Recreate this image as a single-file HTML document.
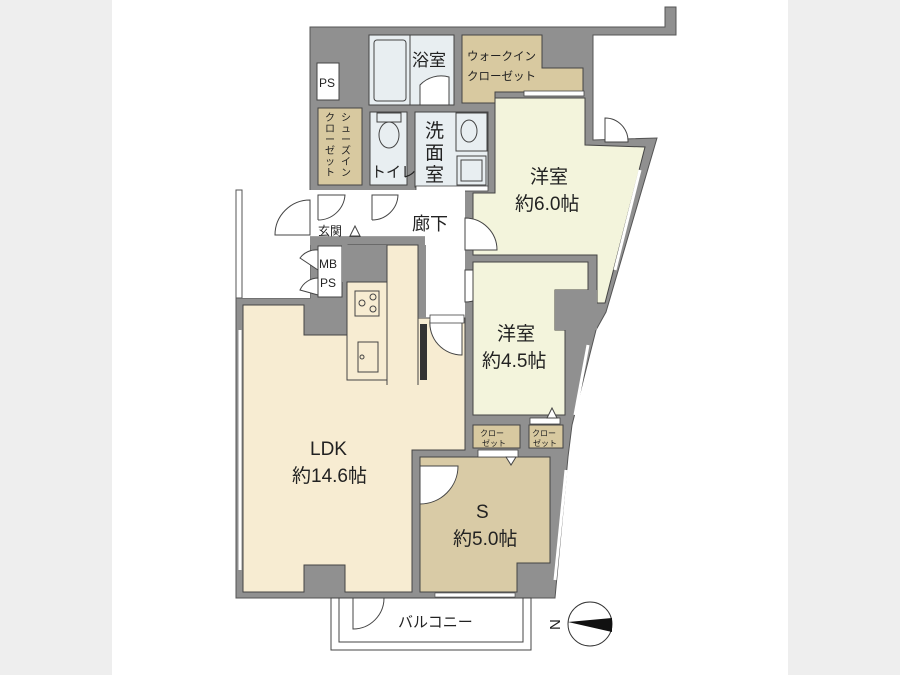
<!DOCTYPE html>
<html><head><meta charset="utf-8"><style>
html,body{margin:0;padding:0;background:#eeeeee;}
svg{display:block;}
text{font-family:"Liberation Sans","Noto Sans CJK JP",sans-serif;fill:#222;}
</style></head><body>
<svg width="900" height="675" viewBox="0 0 900 675" xmlns="http://www.w3.org/2000/svg">
<rect x="0" y="0" width="900" height="675" fill="#eeeeee"/>
<rect x="112" y="0" width="676" height="675" fill="#ffffff"/>

<polygon fill="#909090" stroke="#555" stroke-width="1" points="310,27 665,27 665,7 676,7 676,35 593,35 593,140 657,138 606,312 596,330 572,425 568,457 555,598 236,598 236,298 310,298"/>
<rect x="242" y="190" width="68" height="108" fill="#fff"/>
<rect x="236" y="190" width="6" height="108" fill="#fff" stroke="#555" stroke-width="1"/>

<rect x="369" y="35" width="85" height="70" fill="#e8eef1" stroke="#444" stroke-width="1"/>
<rect x="374" y="40" width="32" height="61" rx="3" fill="#e8eef1" stroke="#444" stroke-width="1"/>
<line x1="410" y1="35" x2="410" y2="105" stroke="#444"/>
<path d="M420,105 L420,85 A29,29 0 0 1 449,77 L449,105 Z" fill="#fff" stroke="#444"/>
<text x="412" y="66" font-size="17">浴室</text>

<polygon points="462,35 542,35 542,68 583,68 583,92 495,92 495,103 462,103" fill="#d8c9a0" stroke="#444"/>
<text x="467" y="60" font-size="11.5">ウォークイン</text>
<text x="467" y="80" font-size="11.5">クローゼット</text>
<rect x="524" y="91" width="60" height="5" fill="#fff" stroke="#444" stroke-width="0.8"/>

<rect x="317" y="63" width="22" height="37" fill="#fff" stroke="#444"/>
<text x="319" y="87" font-size="12">PS</text>

<rect x="318" y="108" width="44" height="77" fill="#d8c9a0" stroke="#444"/>
<text font-size="10"><tspan x="341" y="121">シ</tspan><tspan x="341" y="132">ュ</tspan><tspan x="341" y="143">ー</tspan><tspan x="341" y="154">ズ</tspan><tspan x="341" y="165">イ</tspan><tspan x="341" y="176">ン</tspan></text>
<text font-size="10"><tspan x="325" y="121">ク</tspan><tspan x="325" y="132">ロ</tspan><tspan x="325" y="143">ー</tspan><tspan x="325" y="154">ゼ</tspan><tspan x="325" y="165">ッ</tspan><tspan x="325" y="176">ト</tspan></text>

<rect x="370" y="112" width="37" height="73" fill="#e8eef1" stroke="#444"/>
<rect x="377" y="113" width="24" height="9" fill="#e8eef1" stroke="#444"/>
<ellipse cx="389" cy="135" rx="10" ry="13" fill="#e8eef1" stroke="#444"/>
<text x="371" y="177" font-size="15">トイレ</text>

<rect x="415" y="112" width="73" height="75" fill="#e8eef1" stroke="#444"/>
<rect x="456" y="113" width="31" height="38" fill="#e8eef1" stroke="#444"/>
<ellipse cx="469" cy="131" rx="8" ry="11" fill="#e8eef1" stroke="#444"/>
<rect x="457" y="156" width="29" height="29" fill="#e8eef1" stroke="#444"/>
<rect x="461" y="160" width="21" height="21" fill="#e8eef1" stroke="#444"/>
<text font-size="19"><tspan x="425" y="137">洗</tspan><tspan x="425" y="159">面</tspan><tspan x="425" y="181">室</tspan></text>
<rect x="416" y="186" width="72" height="5" fill="#fff" stroke="#444" stroke-width="0.8"/>

<polygon points="495,98 585,98 585,145 645,147 605,303 597,303 597,255 473,255 473,193 495,193" fill="#f3f4dc" stroke="#444"/>
<path d="M605,142 L605,118 A23,23 0 0 1 628,142 Z" fill="#fff" stroke="#444"/>
<text x="530" y="183" font-size="19">洋室</text>
<text x="515" y="210" font-size="19">約6.0帖</text>
<line x1="640" y1="170" x2="615" y2="270" stroke="#fff" stroke-width="3"/>

<rect x="362" y="190" width="103" height="55" fill="#fff"/>
<rect x="406" y="190" width="59" height="130" fill="#fff"/>
<rect x="310" y="190" width="52" height="48" fill="#fff"/>
<line x1="310" y1="237" x2="425" y2="237" stroke="#444"/>
<rect x="310" y="237" width="115" height="8" fill="#909090"/>
<text x="412" y="230" font-size="18">廊下</text>
<text x="318" y="235" font-size="12">玄関</text>
<polygon points="350,236 355,226 360,236" fill="#fff" stroke="#444"/>
<path d="M318,220 L318,195 L345,195 A27,27 0 0 1 318,220" fill="#fff" stroke="#444"/>
<path d="M372,220 L372,195 L398,195 A26,26 0 0 1 372,220" fill="#fff" stroke="#444"/>
<path d="M310,235 L310,200 A35,35 0 0 0 275,235 Z" fill="#fff" stroke="#444"/>
<path d="M465,218 A32,32 0 0 1 497,250 L465,250 Z" fill="#fff" stroke="#444"/>
<path d="M465,270 L497,270 A32,32 0 0 1 465,302 Z" fill="#fff" stroke="#444"/>
<path d="M300,258 A20,20 0 0 1 318,250 L318,270 Z" fill="#fff" stroke="#444"/>
<path d="M300,290 A20,20 0 0 1 318,278 L318,295 Z" fill="#fff" stroke="#444"/>

<rect x="318" y="246" width="24" height="51" fill="#fff" stroke="#444"/>
<text x="319" y="268" font-size="12">MB</text>
<text x="320" y="287" font-size="12">PS</text>
<rect x="350" y="247" width="28" height="26" fill="#d8c9a0" stroke="#444"/>
<text x="351" y="265" font-size="11">収納</text>

<polygon points="473,262 588,262 588,290 555,290 555,330 565,330 565,415 473,415" fill="#f3f4dc" stroke="#444"/>
<rect x="555" y="290" width="42" height="40" fill="#909090"/>
<text x="497" y="340" font-size="19">洋室</text>
<text x="482" y="367" font-size="19">約4.5帖</text>
<line x1="588" y1="345" x2="575" y2="415" stroke="#fff" stroke-width="3"/>

<rect x="473" y="425" width="47" height="23" fill="#d8c9a0" stroke="#444"/>
<text x="480" y="436" font-size="8">クロー</text><text x="482" y="446" font-size="8">ゼット</text>
<rect x="529" y="425" width="34" height="23" fill="#d8c9a0" stroke="#444"/>
<text x="532" y="436" font-size="8">クロー</text><text x="533" y="446" font-size="8">ゼット</text>
<rect x="530" y="418" width="30" height="6" fill="#fff" stroke="#444" stroke-width="0.8"/>
<polygon points="547,418 552,408 557,418" fill="#fff" stroke="#444"/>

<polygon points="243,305 304,305 304,335 348,335 348,245 418,245 418,318 465,318 465,450 412,450 412,592 345,592 345,565 304,565 304,592 243,592" fill="#f7ecd2" stroke="#444"/>
<rect x="418" y="245" width="8" height="73" fill="#909090"/>
<rect x="342" y="245" width="46" height="37" fill="#909090"/>
<path d="M387,385 L387,245 L418,245 L418,385" fill="#f7ecd2" stroke="#444"/>
<rect x="347" y="282" width="40" height="98" fill="#f7ecd2" stroke="#444"/>
<rect x="355" y="291" width="24" height="25" fill="#f7ecd2" stroke="#444"/>
<circle cx="362" cy="303" r="3" fill="none" stroke="#444"/><circle cx="373" cy="297" r="3" fill="none" stroke="#444"/><circle cx="373" cy="309" r="3" fill="none" stroke="#444"/>
<rect x="358" y="342" width="20" height="30" fill="#f7ecd2" stroke="#444"/>
<circle cx="362" cy="357" r="2" fill="none" stroke="#444"/>
<rect x="420" y="324" width="7" height="56" fill="#333"/>
<path d="M430,320 L462,320 L462,355 A32,32 0 0 1 430,320" fill="#fff" stroke="#444"/>
<rect x="430" y="315" width="34" height="8" fill="#fff" stroke="#444" stroke-width="0.8"/>
<text x="310" y="455" font-size="19">LDK</text>
<text x="292" y="482" font-size="19">約14.6帖</text>
<line x1="240" y1="330" x2="240" y2="570" stroke="#fff" stroke-width="3"/>

<polygon points="420,457 550,457 550,563 517,563 517,592 420,592" fill="#d9cba6" stroke="#444"/>
<path d="M420,466 L458,466 A38,38 0 0 1 420,504 Z" fill="#fff" stroke="#444"/>
<rect x="478" y="450" width="40" height="7" fill="#fff" stroke="#444" stroke-width="0.8"/>
<polygon points="506,457 511,465 516,457" fill="#fff" stroke="#444"/>
<text x="476" y="518" font-size="19">S</text>
<text x="453" y="545" font-size="19">約5.0帖</text>
<line x1="566" y1="470" x2="555" y2="580" stroke="#fff" stroke-width="3"/>
<rect x="435" y="593" width="80" height="4" fill="#fff" stroke="#444" stroke-width="0.6"/>

<rect x="331" y="598" width="200" height="52" fill="#fff" stroke="#444"/>
<rect x="339" y="598" width="184" height="44" fill="#fff" stroke="#444"/>
<path d="M353,598 L384,598 A31,31 0 0 1 353,629 Z" fill="#fff" stroke="#444"/>
<text x="398" y="627" font-size="15">バルコニー</text>

<circle cx="590" cy="624" r="22" fill="#fff" stroke="#333"/>
<polygon points="568,622 612,618 612,632" fill="#111"/>
<text x="549" y="629" font-size="15" transform="rotate(-90 555 624)">N</text>
</svg>
</body></html>
